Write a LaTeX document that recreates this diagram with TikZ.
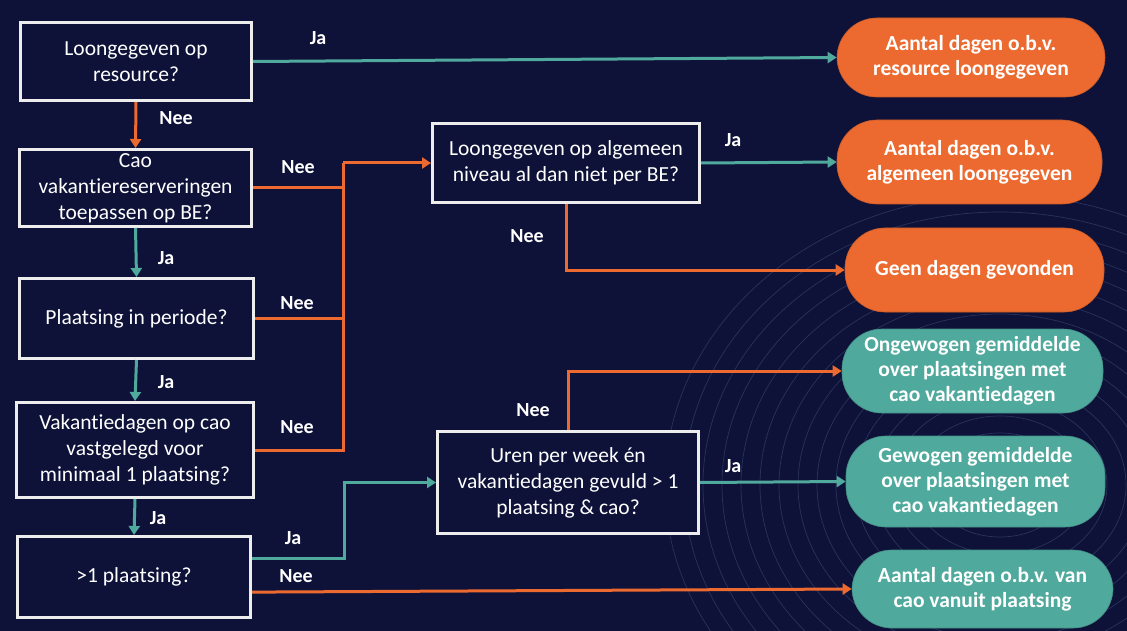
\documentclass[tikz,border=0pt]{standalone}
\usepackage{fontspec}
\setmainfont{Carlito}[Ligatures=NoCommon]
\usetikzlibrary{arrows.meta,calc}
\definecolor{bgnavy}{HTML}{0E1239}
\definecolor{boxline}{HTML}{EDEDED}
\definecolor{orng}{HTML}{EC6A2F}
\definecolor{teal}{HTML}{4FA99C}
\definecolor{contour}{HTML}{29335A}
\tikzset{
  qbox/.style={draw=boxline, line width=3pt, fill=bgnavy, text=white, align=center,
    inner sep=2pt, font=\fontsize{21.5}{26}\selectfont},
  pill/.style={rounded corners=40pt, inner sep=0pt, text=white, align=center,
    font=\bfseries\fontsize{21.5}{25}\selectfont},
  opill/.style={pill, fill=orng, draw=orng!85!black, line width=0.6pt},
  tpill/.style={pill, fill=teal, draw=teal!85!black, line width=0.6pt},
  oline/.style={draw=orng, line width=3pt, -{Triangle[length=9pt,width=11pt]}},
  tline/.style={draw=teal, line width=3pt, -{Triangle[length=9pt,width=11pt]}},
  olineplain/.style={draw=orng, line width=3pt},
  lbl/.style={text=white, font=\bfseries\fontsize{20}{24}\selectfont, inner sep=0pt},
  contourline/.style={draw=contour, line width=0.7pt}
}
\begin{document}
\begin{tikzpicture}[x=1pt,y=-1pt]
\fill[bgnavy] (0,0) rectangle (1127,631);
\useasboundingbox (0,0) rectangle (1127,631);
% background contour lines
\begin{scope}
\clip (0,0) rectangle (1127,631);
\foreach \r in {1,...,15} {
  \draw[contourline] (1000,485) ellipse ({50+19*\r} and {35+17*\r});
}
\end{scope}

% question boxes
\node[qbox, minimum width=231pt, minimum height=78pt] (b1) at (136,61.5) {Loongegeven op\\resource?};
\node[qbox, minimum width=232pt, minimum height=77pt] (b2) at (135.5,188) {Cao\\vakantiereserveringen\\toepassen op BE?};
\node[qbox, minimum width=234pt, minimum height=80pt] (b3) at (136.5,318.5) {Plaatsing in periode?};
\node[qbox, minimum width=237pt, minimum height=95pt] (b4) at (135,450) {Vakantiedagen op cao\\vastgelegd voor\\minimaal 1 plaatsing?};
\node[qbox, minimum width=233pt, minimum height=81pt] (b5) at (134,577) {>1 plaatsing?};
\node[qbox, minimum width=267pt, minimum height=79pt] (b6) at (566,163) {Loongegeven op algemeen\\niveau al dan niet per BE?};
\node[qbox, minimum width=261pt, minimum height=102pt] (b7) at (568,482.5) {Uren per week én\\vakantiedagen gevuld > 1\\plaatsing \& cao?};

% outcome pills
\node[opill, minimum width=268pt, minimum height=79pt] (p1) at (971,57.5) {Aantal dagen o.b.v.\\resource loongegeven};
\node[opill, minimum width=265pt, minimum height=84pt] (p2) at (969.5,162) {Aantal dagen o.b.v.\\algemeen loongegeven};
\node[opill, minimum width=259pt, minimum height=84pt] (p3) at (974.5,270) {Geen dagen gevonden};
\node[tpill, minimum width=261pt, minimum height=84pt] (p4) at (972.5,371) {Ongewogen gemiddelde\\over plaatsingen met\\cao vakantiedagen};
\node[tpill, minimum width=259pt, minimum height=91pt] (p5) at (975.5,481.5) {Gewogen gemiddelde\\over plaatsingen met\\cao vakantiedagen};
\node[tpill, minimum width=261pt, minimum height=78pt] (p6) at (982.5,589) {Aantal dagen o.b.v. van\\cao vanuit plaatsing};

% junctions
\coordinate (j1) at (343,163);
\coordinate (j2) at (344,482.5);

% connectors
\draw[tline] (b1.east) -- (p1.west);
\draw[oline] (b1.south) -- (b2.north);
\draw[olineplain] (b2.east) -| (j1);
\draw[olineplain] (b3.east) -| (j1);
\draw[olineplain] (b4.east) -| (j1);
\draw[oline] (j1) -- (b6.west);
\draw[tline] (b2.south) -- (b3.north);
\draw[tline] (b3.south) -- (b4.north);
\draw[tline] (b4.south) -- (b5.north);
\draw[tline] ($(b5.north east)!0.28!(b5.south east)$) -| (j2) -- (b7.west);
\draw[oline] ($(b5.north east)!0.68!(b5.south east)$) -- (p6.west);
\draw[tline] (b6.east) -- (p2.west);
\draw[oline] (b6.south) |- (p3.west);
\draw[oline] (b7.north) |- (p4.west);
\draw[tline] (b7.east) -- (p5.west);

% labels
\node[lbl] (l1) at (318,38) {Ja};
\node[lbl] (l2) at (176,118) {Nee};
\node[lbl] (l3) at (298,167) {Nee};
\node[lbl] (l4) at (297,303) {Nee};
\node[lbl] (l5) at (297,427) {Nee};
\node[lbl] (l6) at (166,258) {Ja};
\node[lbl] (l7) at (166,382) {Ja};
\node[lbl] (l8) at (158,518) {Ja};
\node[lbl] (l9) at (293,538) {Ja};
\node[lbl] (l10) at (296,576) {Nee};
\node[lbl] (l11) at (733,140) {Ja};
\node[lbl] (l12) at (527,236) {Nee};
\node[lbl] (l13) at (533,410) {Nee};
\node[lbl] (l14) at (733,466) {Ja};
\end{tikzpicture}
\end{document}
